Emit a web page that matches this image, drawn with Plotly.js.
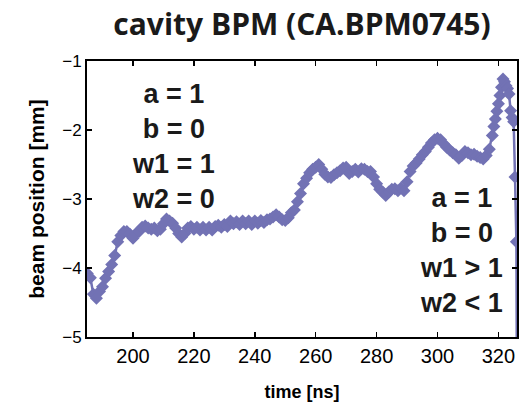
<!DOCTYPE html>
<html>
<head>
<meta charset="utf-8">
<script src="https://cdn.plot.ly/plotly-3.0.1.min.js"></script>
<style>html,body{margin:0;padding:0;background:#fff;}#chart{width:525px;height:402px;}</style>
</head>
<body>
<div id="chart"></div>
<script>
// time samples [ns]
const timeNs = [
185,186,187,188,189,190,191,192,193,194,195,196,197,198,199,
200,201,202,203,204,205,206,207,208,209,210,211,212,213,214,
215,216,217,218,219,220,221,222,223,224,225,226,227,228,229,
230,231,232,233,234,235,236,237,238,239,240,241,242,243,244,
245,246,247,248,249,250,251,252,253,254,255,256,257,258,259,
260,261,262,263,264,265,266,267,268,269,270,271,272,273,274,
275,276,277,278,279,280,281,282,283,284,285,286,287,288,289,
290,291,292,293,294,295,296,297,298,299,300,301,302,303,304,
305,306,307,308,309,310,311,312,313,314,315,316,317,318,318.5,
319,319.5,320,320.5,321,321.5,322,322.5,323,323.5,324,324.5,325,
325.45,325.9,326.1
];
// beam position [mm]
const beamPos = [
-4.08,-4.14,-4.38,-4.44,-4.34,-4.27,-4.15,-4.05,-3.95,-3.82,-3.62,-3.53,-3.47,-3.47,-3.51,
-3.57,-3.50,-3.47,-3.41,-3.39,-3.42,-3.44,-3.42,-3.46,-3.44,-3.36,-3.29,-3.32,-3.35,-3.42,
-3.50,-3.55,-3.50,-3.42,-3.40,-3.44,-3.41,-3.45,-3.41,-3.45,-3.41,-3.45,-3.40,-3.38,-3.41,
-3.37,-3.40,-3.32,-3.36,-3.33,-3.37,-3.32,-3.36,-3.32,-3.37,-3.32,-3.35,-3.31,-3.34,-3.30,
-3.29,-3.26,-3.23,-3.26,-3.30,-3.31,-3.27,-3.20,-3.16,-3.04,-2.92,-2.78,-2.70,-2.62,-2.57,
-2.54,-2.50,-2.57,-2.64,-2.68,-2.69,-2.65,-2.62,-2.59,-2.55,-2.54,-2.63,-2.60,-2.57,-2.61,
-2.56,-2.57,-2.60,-2.60,-2.68,-2.78,-2.86,-2.90,-2.95,-2.90,-2.86,-2.85,-2.88,-2.84,-2.88,
-2.75,-2.60,-2.52,-2.48,-2.42,-2.36,-2.31,-2.25,-2.19,-2.14,-2.12,-2.14,-2.20,-2.25,-2.29,
-2.33,-2.36,-2.41,-2.37,-2.31,-2.33,-2.36,-2.35,-2.38,-2.40,-2.42,-2.37,-2.28,-2.08,-1.95,
-1.84,-1.73,-1.62,-1.50,-1.38,-1.26,-1.30,-1.36,-1.40,-1.48,-1.72,-1.82,-1.88,
-2.68,-3.62,-6.0
];
const xTicks = [200,220,240,260,280,300,320];
const yTicks = [-5,-4,-3,-2,-1];
const titleText = 'cavity BPM (CA.BPM0745)';
const xTitle = 'time [ns]';
const yTitle = 'beam position [mm]';
const leftNote = ['a = 1','b = 0','w1 = 1','w2 = 0'];
const rightNote = ['a = 1','b = 0','w1 > 1','w2 < 1'];

const col = '#7272b4';
const trace = {
  x: timeNs, y: beamPos, type: 'scatter', mode: 'lines+markers',
  line: {color: col, width: 2.5},
  marker: {symbol: 'diamond', size: 10, color: col, line: {width: 0}},
  cliponaxis: true, hoverinfo: 'skip'
};
const sans = 'Liberation Sans, Arial, sans-serif';
const noteFont = {family: sans, size: 27, color: '#1a1a1a', weight: 'bold'};
const layout = {
  width: 525, height: 402,
  margin: {l: 87, r: 8, t: 61, b: 65, pad: 0},
  paper_bgcolor: '#fff', plot_bgcolor: '#fff',
  showlegend: false,
  title: {text: titleText, x: 0.5, xref: 'paper', y: 0.938, yref: 'container', yanchor: 'middle',
    font: {family: 'Open Sans, Noto Sans, sans-serif', size: 30, color: '#1a1a1a', weight: 'bold'}},
  xaxis: {
    range: [184.9, 326.1], tickvals: xTicks, ticktext: xTicks.map(String),
    ticks: 'inside', ticklen: 5, tickwidth: 1.5, tickcolor: '#000',
    showline: true, linewidth: 2, linecolor: '#000', mirror: 'ticks',
    showgrid: false, zeroline: false, tickfont: {family: sans, size: 20, color: '#000'},
    title: {text: xTitle, standoff: 22, font: {family: sans, size: 18, color: '#000', weight: 'bold'}}
  },
  yaxis: {
    range: [-5, -1], tickvals: yTicks, ticktext: yTicks.map(v => '\u2212' + Math.abs(v)),
    ticks: 'inside', ticklen: 5, tickwidth: 1.5, tickcolor: '#000',
    showline: true, linewidth: 2, linecolor: '#000', mirror: 'ticks',
    showgrid: false, zeroline: false, tickfont: {family: sans, size: 17, color: '#000'},
    title: {text: yTitle, standoff: 12, font: {family: sans, size: 21, color: '#000', weight: 'bold'}}
  },
  annotations: [
    {text: leftNote.join('<br>'), xref: 'paper', yref: 'paper', x: 0.2, y: 0.69,
      xanchor: 'center', yanchor: 'middle', showarrow: false, align: 'center', font: noteFont},
    {text: rightNote.join('<br>'), xref: 'paper', yref: 'paper', x: 0.87, y: 0.312,
      xanchor: 'center', yanchor: 'middle', showarrow: false, align: 'center', font: noteFont}
  ]
};
Plotly.newPlot('chart', [trace], layout, {displayModeBar: false, staticPlot: true});
</script>
</body>
</html>
